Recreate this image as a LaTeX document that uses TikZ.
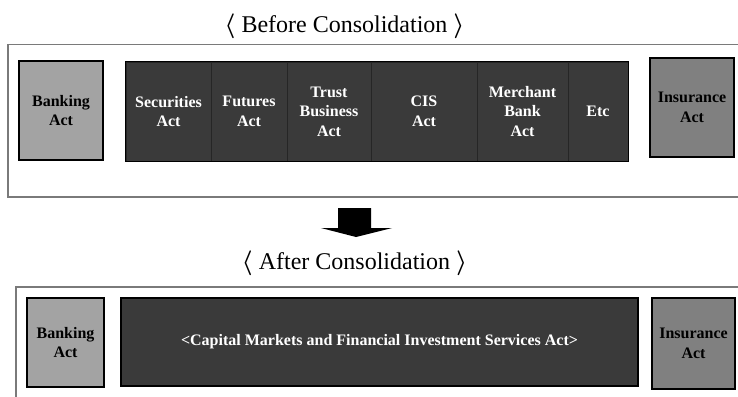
\documentclass[tikz,border=0pt]{standalone}
\usepackage{fontspec}
\setmainfont{Liberation Serif}
\usepackage{amsmath}
\usepackage{amssymb}

\definecolor{actdark}{HTML}{3A3A3A}
\definecolor{banklight}{HTML}{A3A3A3}
\definecolor{insgray}{HTML}{808080}
\definecolor{framegray}{HTML}{7A7A7A}

\begin{document}
\begin{tikzpicture}[x=1pt,y=-1pt]

      \useasboundingbox (0,0) rectangle (738,396);

      % titles
      \node[anchor=base,font=\fontsize{24}{28}\selectfont] (before) at (344.5,33)
        {$\boldsymbol{\langle}$ Before Consolidation $\boldsymbol{\rangle}$};
      \node[anchor=base,font=\fontsize{24}{28}\selectfont] (after) at (354.5,269)
        {$\boldsymbol{\langle}$ After Consolidation $\boldsymbol{\rangle}$};

      % frames
      \draw[framegray,line width=1.2pt] (745,44.5) -- (8,44.5) -- (8,197) -- (745,197);
      \draw[framegray,line width=1.2pt] (745,287) -- (16,287) -- (16,400);

      % arrow
      \fill[black] (338,208) -- (371,208) -- (371,228) -- (392,228) -- (356,237)
        -- (321,228) -- (338,228) -- cycle;

      \begin{scope}[every node/.style={rectangle,draw=black,line width=1.3pt,inner sep=0pt,
          align=center,font=\bfseries\fontsize{16}{19.5}\selectfont}]
        \node[fill=banklight,minimum width=84pt,minimum height=99pt] (bank1) at (61,110.5) {Banking\\Act};
        \node[fill=insgray,minimum width=84pt,minimum height=99pt] (ins1) at (692,107.5) {Insurance\\Act};
        \node[fill=banklight,minimum width=77pt,minimum height=89pt] (bank2) at (65.5,342.5) {Banking\\Act};
        \node[fill=insgray,minimum width=83pt,minimum height=91pt] (ins2) at (693.5,343.5) {Insurance\\Act};
        \node[fill=actdark,text=white,minimum width=517pt,minimum height=88pt] (cap) at (379.5,342)
          {\textless Capital Markets and Financial Investment Services Act\textgreater};
      \end{scope}

      \begin{scope}[every node/.style={rectangle,draw=black!85,line width=0.6pt,fill=actdark,
          text=white,inner sep=0pt,minimum height=99pt,align=center,
          font=\bfseries\fontsize{16}{19.5}\selectfont}]
        \node[minimum width=85pt]  (sec)   at (168.5,111.5) {Securities\\Act};
        \node[minimum width=76pt]  (fut)   at (249,111.5)   {Futures\\Act};
        \node[minimum width=84pt]  (trust) at (329,111.5)   {Trust\\Business\\Act};
        \node[minimum width=106pt] (cis)   at (424,111.5)   {CIS\\Act};
        \node[minimum width=91pt]  (merch) at (522.5,111.5) {Merchant\\Bank\\Act};
        \node[minimum width=60pt]  (etc)   at (598,111.5)   {Etc};
      \end{scope}

      \draw[black,line width=1.3pt] (sec.north west) rectangle (etc.south east);

    \end{tikzpicture}
\end{document}
